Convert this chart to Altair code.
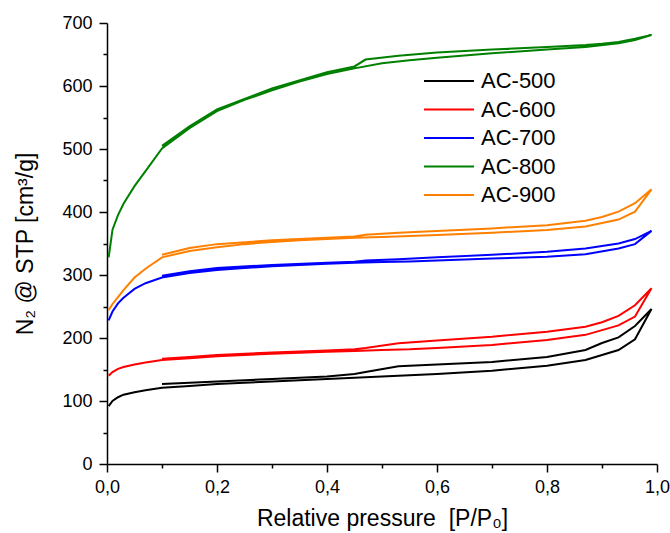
import altair as alt
import pandas as pd

SAMPLES = ["AC-500", "AC-600", "AC-700", "AC-800", "AC-900"]
COLORS = ["#000000", "#ff0000", "#0000ff", "#008000", "#ff8000"]

# adsorption branch (relative pressure, increasing)
ADS_P = [0.003, 0.01, 0.02, 0.03, 0.05, 0.07, 0.1, 0.15, 0.2, 0.25, 0.3, 0.35,
         0.4, 0.45, 0.5, 0.55, 0.6, 0.7, 0.8, 0.87, 0.93, 0.96, 0.99]
ADS_500 = [92, 100, 106, 110, 114, 117, 121, 124, 127, 129, 131, 133, 135, 137,
           139, 141, 143, 148, 156, 165, 181, 198, 246]
ADS_600 = [140, 146, 151, 154, 158, 161, 165, 168, 171, 173, 175, 176.5, 178,
           179.5, 181, 182, 184, 189, 197, 205, 220, 234, 279]
ADS_700 = [228, 242, 255, 264, 278, 287, 296, 303, 308, 311, 314, 316, 318,
           319.5, 320.5, 321.5, 323, 326, 329, 333, 342, 349, 370]
ADS_800 = [328, 372, 395, 413, 441, 465, 501, 533, 560, 578, 593, 607, 619,
           628, 636, 641, 645, 652, 658, 662, 668, 673, 681]
ADS_900 = [244, 254, 265, 276, 296, 310, 328, 338, 344, 349, 352.5, 355, 357,
           359, 360.5, 362, 363.5, 367, 371.5, 377, 388, 400.5, 436]

# desorption branch (relative pressure, decreasing)
DES_P = [0.99, 0.96, 0.93, 0.9, 0.87, 0.8, 0.7, 0.6, 0.53, 0.47, 0.45, 0.4,
         0.3, 0.2, 0.15, 0.1]
DES_500 = [246, 219, 201, 192, 181, 170, 162, 158, 155, 146, 143, 139, 135,
           131, 129, 127]
DES_600 = [279, 252, 235, 225, 218, 210, 202, 196, 191.5, 184, 182, 180, 177,
           173, 170, 167]
DES_700 = [370, 357, 350, 346, 342, 337, 332, 328, 325, 323, 321, 319.5, 316,
           311, 306, 299]
DES_800 = [681, 675, 670, 667, 665, 662, 658, 653, 648, 642, 631, 622, 596,
           563, 536, 505]
DES_900 = [436, 414, 400.5, 392, 386, 379, 374, 370, 367, 364, 361, 359, 355,
           349, 343, 332]

X_TICKS = [0.0, 0.1, 0.2, 0.3, 0.4, 0.5, 0.6, 0.7, 0.8, 0.9, 1.0]
Y_TICKS = list(range(0, 701, 50))

ads_all = [ADS_500, ADS_600, ADS_700, ADS_800, ADS_900]
des_all = [DES_500, DES_600, DES_700, DES_800, DES_900]

rows = []
for name, ads, des in zip(SAMPLES, ads_all, des_all):
    i = 0
    for p, v in zip(ADS_P, ads):
        rows.append({"sample": name, "p": p, "v": v, "order": i})
        i += 1
    for p, v in zip(DES_P, des):
        rows.append({"sample": name, "p": p, "v": v, "order": i})
        i += 1
df = pd.DataFrame(rows)

x_axis = alt.Axis(
    values=X_TICKS,
    labelExpr="round(datum.value*10) % 2 == 0 ? replace(format(datum.value, '.1f'), '.', ',') : ''",
    tickSize={"condition": {"test": "round(datum.value*10) % 2 == 1", "value": 4}, "value": 8},
    labelPadding=6,
    titlePadding=11,
    labelOverlap=False,
    labelFlush=False,
    grid=False,
)
y_axis = alt.Axis(
    values=Y_TICKS,
    labelExpr="datum.value % 100 == 0 ? datum.label : ''",
    tickSize={"condition": {"test": "datum.value % 100 != 0", "value": 4}, "value": 8},
    labelPadding=7,
    titlePadding=24,
    labelOverlap=False,
    grid=False,
)

chart = alt.Chart(df).mark_line(strokeWidth=2, clip=False).encode(
    x=alt.X("p:Q", title="Relative pressure\u00a0 [P/P₀]",
            scale=alt.Scale(domain=[0, 1], nice=False, zero=False), axis=x_axis),
    y=alt.Y("v:Q", title="N₂ @ STP [cm³/g]",
            scale=alt.Scale(domain=[0, 700], nice=False), axis=y_axis),
    color=alt.Color("sample:N",
                    scale=alt.Scale(domain=SAMPLES, range=COLORS),
                    legend=alt.Legend(orient="none", legendX=316, legendY=46,
                                      title=None, symbolType="stroke",
                                      symbolSize=2500, symbolStrokeWidth=2,
                                      labelFontSize=22, labelOffset=6,
                                      clipHeight=24, rowPadding=4.5)),
    order="order:Q",
    detail="sample:N",
).properties(
    width=550,
    height=441,
    autosize=alt.AutoSizeParams(type="none"),
    padding={"left": 107, "top": 23, "right": 13, "bottom": 69},
).configure(
    font="Liberation Sans",
).configure_view(
    stroke=None,
).configure_axis(
    labelFont="Liberation Sans",
    titleFont="Liberation Sans",
    labelFontSize=18,
    titleFontSize=23,
    titleFontWeight="normal",
    labelColor="#000000",
    titleColor="#000000",
    domainColor="#000000",
    tickColor="#000000",
    domainWidth=1.5,
    tickWidth=1.5,
).configure_legend(
    labelFont="Liberation Sans",
    labelColor="#000000",
)

chart.save("out.html", embed_options={"renderer": "svg", "actions": False})
